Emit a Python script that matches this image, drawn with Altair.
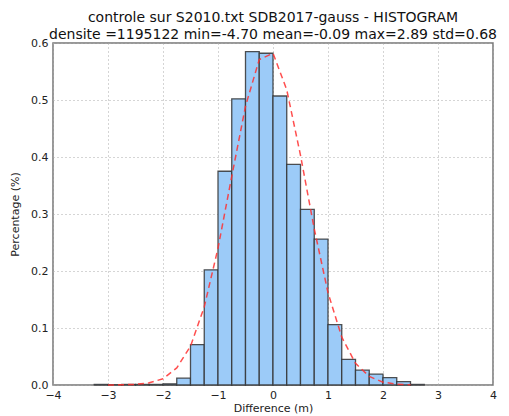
import altair as alt
import pandas as pd

# Histogram bins (left edges, width 0.25) and percentages
bin_left = [-3.25, -3.0, -2.75, -2.5, -2.25, -2.0, -1.75, -1.5, -1.25, -1.0,
            -0.75, -0.5, -0.25, 0.0, 0.25, 0.5, 0.75, 1.0, 1.25, 1.5,
            1.75, 2.0, 2.25, 2.5]
bin_pct = [0.001, 0.0005, 0.001, 0.001, 0.001, 0.002, 0.012, 0.071, 0.202, 0.375,
           0.502, 0.585, 0.582, 0.507, 0.387, 0.308, 0.256, 0.106, 0.045, 0.026,
           0.019, 0.013, 0.006, 0.001]
bin_width = 0.25

# Fitted gaussian curve (read at bin edges)
curve_x = [-3.0, -2.75, -2.5, -2.25, -2.0, -1.75, -1.5, -1.25, -1.0, -0.75,
           -0.5, -0.25, 0.0, 0.25, 0.5, 0.75, 1.0, 1.25, 1.5, 1.75,
           2.0, 2.25, 2.5]
curve_y = [0.0001, 0.0003, 0.0011, 0.0038, 0.011, 0.030, 0.068, 0.137, 0.240, 0.366,
           0.489, 0.571, 0.582, 0.518, 0.403, 0.274, 0.162, 0.084, 0.038, 0.015,
           0.005, 0.0016, 0.0004]

title_lines = ["controle sur S2010.txt SDB2017-gauss - HISTOGRAM",
               "densite =1195122 min=-4.70 mean=-0.09 max=2.89 std=0.68"]

bars_df = pd.DataFrame({"x": bin_left,
                        "x2": [v + bin_width for v in bin_left],
                        "y": bin_pct})
curve_df = pd.DataFrame({"x": curve_x, "y": curve_y})

FONT = "DejaVu Sans"

xscale = alt.Scale(domain=[-4, 4], nice=False, zero=False)
yscale = alt.Scale(domain=[0, 0.6], nice=False)

xaxis = alt.Axis(title="Difference (m)", values=list(range(-4, 5)), format="d",
                 grid=True, gridDash=[1, 3], gridColor="#aaaaaa", gridWidth=1,
                 ticks=False, domain=False, labelFont=FONT, labelFontSize=11,
                 labelColor="#222", labelPadding=4, titleFont=FONT, titleFontSize=11,
                 titleFontWeight="normal", titleColor="#222", titlePadding=2,
                 labelFlush=False)
yaxis = alt.Axis(title="Percentage (%)", values=[0, 0.1, 0.2, 0.3, 0.4, 0.5, 0.6],
                 format=".1f", grid=True, gridDash=[1, 3], gridColor="#aaaaaa",
                 gridWidth=1, ticks=False, domain=False, labelFont=FONT,
                 labelFontSize=11, labelColor="#222", labelPadding=5,
                 titleFont=FONT, titleFontSize=11, titleFontWeight="normal",
                 titleColor="#222", titlePadding=10, labelFlush=False)

bars = alt.Chart(bars_df).mark_rect(
    fill="#9ccbf8", stroke="#333333", strokeWidth=1.3, strokeOpacity=0.85
).encode(
    x=alt.X("x:Q", scale=xscale, axis=xaxis),
    x2="x2:Q",
    y=alt.Y("y:Q", scale=yscale, axis=yaxis),
    y2=alt.datum(0),
)

curve = alt.Chart(curve_df).mark_line(
    color="#ff3030", strokeDash=[6, 4], strokeWidth=1.5, opacity=0.85
).encode(
    x=alt.X("x:Q", scale=xscale),
    y=alt.Y("y:Q", scale=yscale),
)

chart = alt.layer(bars, curve).properties(
    width=440, height=342,
    title=alt.TitleParams(title_lines, font=FONT, fontSize=14, fontWeight="normal",
                          color="#111", anchor="middle", offset=4, dy=9,
                          lineHeight=17),
    autosize=alt.AutoSizeParams(type="none"),
    padding={"left": 45, "top": 35, "right": 8, "bottom": 30},
).configure_view(
    stroke="#777777", strokeWidth=1.5
)

chart.save("out.html", embed_options={"renderer": "svg", "actions": False})
